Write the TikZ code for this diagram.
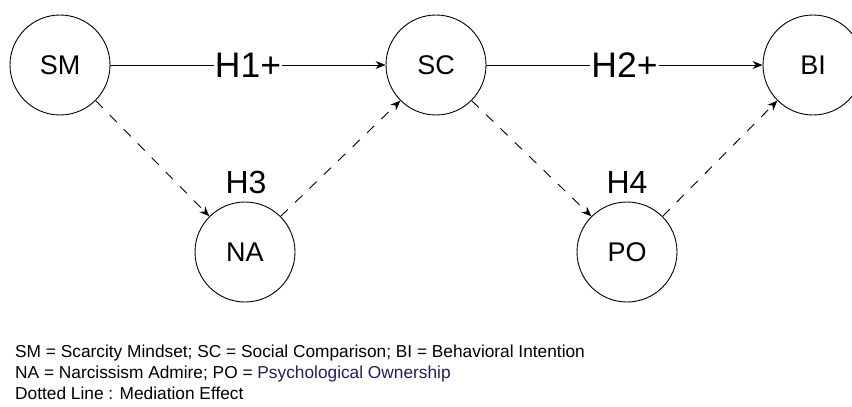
\documentclass[tikz,border=0pt]{standalone}
\usepackage{fontspec}
\setmainfont{Liberation Sans}
\usetikzlibrary{arrows.meta}
\definecolor{navy}{RGB}{32,32,82}

\begin{document}
\begin{tikzpicture}[x=1pt, y=-1pt, >={Stealth[length=10pt,width=8pt]},
    construct/.style={draw, circle, minimum size=100pt, inner sep=0pt, line width=0.9pt,
        font=\fontsize{27}{30}\selectfont},
    direct/.style={->, line width=0.9pt},
    mediate/.style={->, line width=0.9pt, dash pattern=on 10pt off 10pt},
    hyp/.style={font=\fontsize{35.5}{40}\selectfont},
    legend/.style={anchor=base west, inner sep=0pt, font=\fontsize{17.3}{20}\selectfont}]
    \useasboundingbox (0,0) rectangle (852,407);

    % Constructs
    \node[construct] (SM) at (60,65) {SM};
    \node[construct] (SC) at (436,65) {SC};
    \node[construct] (BI) at (813,65) {BI};
    \node[construct] (NA) at (245,252) {NA};
    \node[construct] (PO) at (627,252) {PO};

    % Direct paths
    \draw[direct] (SM) -- node[hyp, fill=white, inner xsep=1pt, inner ysep=0pt] (H1) {H1+} (SC);
    \draw[direct] (SC) -- node[hyp, fill=white, inner xsep=1pt, inner ysep=0pt] (H2) {H2+} (BI);

    % Mediation paths
    \draw[mediate] (SM.-45) -- (NA.135);
    \draw[mediate] (NA.45) -- (SC.-135);
    \draw[mediate] (SC.-45) -- (PO.135);
    \draw[mediate] (PO.45) -- (BI.-135);
    \node[hyp, font=\fontsize{32}{36}\selectfont] (H3) at (246,182) {H3};
    \node[hyp, font=\fontsize{32}{36}\selectfont] (H4) at (627,182) {H4};

    % Legend
    \node[legend] (leg1) at (15,357) {SM = Scarcity Mindset; SC = Social Comparison; BI = Behavioral Intention};
    \node[legend] (leg2) at (15,378) {NA = Narcissism Admire; PO = \textcolor{navy}{Psychological Ownership}};
    \node[legend] (leg3) at (15,399) {Dotted Line : Mediation Effect};
\end{tikzpicture}
\end{document}
